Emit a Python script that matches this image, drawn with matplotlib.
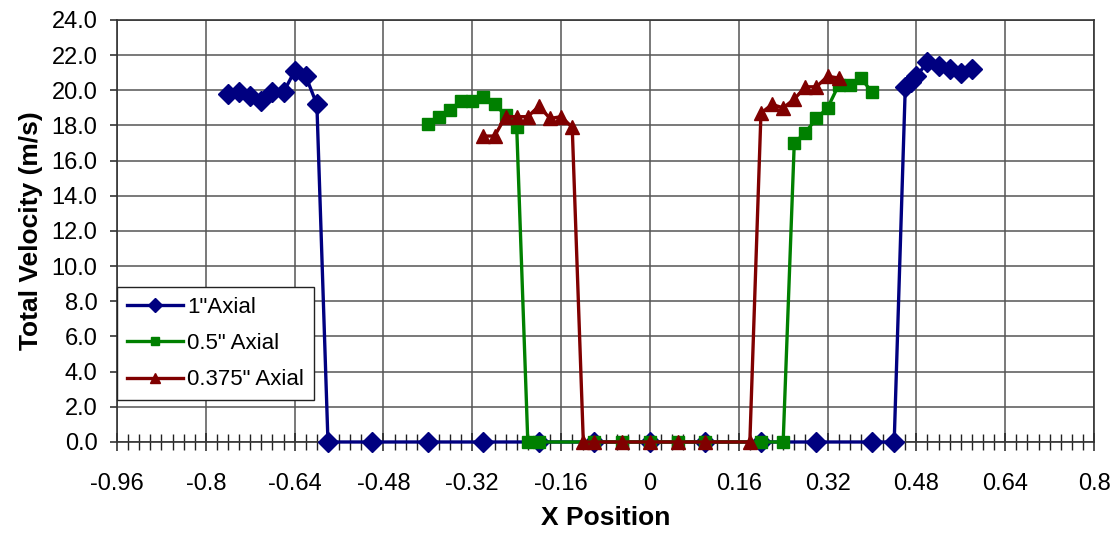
import numpy as np
import matplotlib
matplotlib.use("Agg")
import matplotlib.pyplot as plt
from matplotlib.ticker import MultipleLocator, FuncFormatter

plt.rcParams["font.family"] = ["Liberation Sans", "DejaVu Sans"]

# 1" axial traverse
x_1in = [-0.76, -0.74, -0.72, -0.70, -0.68, -0.66, -0.64, -0.62, -0.60,
         -0.58, -0.50, -0.40, -0.30, -0.20, -0.10, 0.0, 0.10, 0.20, 0.30, 0.40, 0.44,
         0.46, 0.47, 0.48, 0.50, 0.52, 0.54, 0.56, 0.58]
v_1in = [19.8, 19.9, 19.7, 19.4, 19.9, 19.9, 21.1, 20.8, 19.2,
         0.0, 0.0, 0.0, 0.0, 0.0, 0.0, 0.0, 0.0, 0.0, 0.0, 0.0, 0.0,
         20.2, 20.5, 20.8, 21.6, 21.4, 21.2, 21.0, 21.2]

# 0.5" axial traverse
x_05in = [-0.40, -0.38, -0.36, -0.34, -0.32, -0.30, -0.28, -0.26, -0.24,
          -0.22, -0.20, -0.10, -0.05, 0.0, 0.05, 0.10, 0.20, 0.24,
          0.26, 0.28, 0.30, 0.32, 0.34, 0.36, 0.38, 0.40]
v_05in = [18.1, 18.5, 18.9, 19.4, 19.4, 19.6, 19.2, 18.6, 17.9,
          0.0, 0.0, 0.0, 0.0, 0.0, 0.0, 0.0, 0.0, 0.0,
          17.0, 17.6, 18.4, 19.0, 20.3, 20.3, 20.7, 19.9]

# 0.375" axial traverse
x_0375in = [-0.30, -0.28, -0.26, -0.24, -0.22, -0.20, -0.18, -0.16, -0.14,
            -0.12, -0.10, -0.05, 0.0, 0.05, 0.10, 0.18,
            0.20, 0.22, 0.24, 0.26, 0.28, 0.30, 0.32, 0.34]
v_0375in = [17.4, 17.4, 18.5, 18.5, 18.5, 19.1, 18.4, 18.5, 17.9,
            0.0, 0.0, 0.0, 0.0, 0.0, 0.0, 0.0,
            18.7, 19.2, 19.0, 19.5, 20.2, 20.2, 20.8, 20.7]

x_ticks = [-0.96, -0.8, -0.64, -0.48, -0.32, -0.16, 0, 0.16, 0.32, 0.48, 0.64, 0.8]
y_ticks = [0, 2, 4, 6, 8, 10, 12, 14, 16, 18, 20, 22, 24]

fig = plt.figure(figsize=(11.2, 5.36), dpi=100)
ax = fig.add_axes([0.1045, 0.1754, 0.8723, 0.7873])

ax.plot(x_1in, v_1in, color="#000080", lw=2.4, marker="D", ms=10.5,
        label='1"Axial', zorder=3, clip_on=False)
ax.plot(x_05in, v_05in, color="#008000", lw=2.4, marker="s", ms=8.5,
        label='0.5" Axial', zorder=4, clip_on=False)
ax.plot(x_0375in, v_0375in, color="#800000", lw=2.4, marker="^", ms=10.5,
        label='0.375" Axial', zorder=5, clip_on=False)

ax.set_xlim(-0.96, 0.8)
ax.set_ylim(0, 24)
ax.set_xticks(x_ticks)
ax.set_xticklabels([f"{t:g}" for t in x_ticks])
ax.xaxis.set_minor_locator(MultipleLocator(0.02))
ax.set_yticks(y_ticks)
ax.yaxis.set_major_formatter(FuncFormatter(lambda v, p: f"{v:.1f}"))

ax.grid(True, which="major", color="#555555", lw=1.1, zorder=0)
ax.set_axisbelow(True)
for s in ax.spines.values():
    s.set_color("#333333")
    s.set_linewidth(1.2)

ax.tick_params(axis="x", which="major", direction="inout", length=13, width=1.1,
               labelsize=17, pad=16, color="#222222")
ax.tick_params(axis="x", which="minor", direction="inout", length=12, width=1.0,
               color="#222222")
ax.tick_params(axis="y", which="major", direction="out", length=5, width=1.1,
               labelsize=17, pad=9, color="#222222")

ax.set_xlabel("X Position", fontsize=19, fontweight="bold", labelpad=8)
ax.set_ylabel("Total Velocity (m/s)", fontsize=19, fontweight="bold", labelpad=6)

leg = ax.legend(loc="upper left", bbox_to_anchor=(0, 0.367), borderaxespad=0,
                fontsize=16, frameon=True, fancybox=False, framealpha=1,
                edgecolor="#222222", handlelength=2.5, markerscale=0.7,
                labelspacing=0.68, borderpad=0.45, handletextpad=0.2)
leg.get_frame().set_linewidth(1.0)
leg.set_zorder(10)

fig.savefig("out.png", dpi=100)
